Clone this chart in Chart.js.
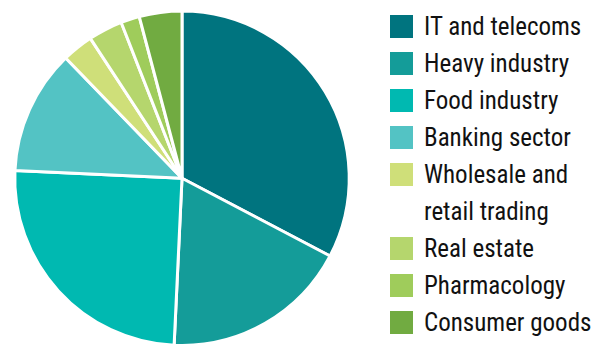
<!DOCTYPE html>
<html><head><meta charset="utf-8">
<script src="https://cdn.jsdelivr.net/npm/chart.js@4/dist/chart.umd.min.js"></script>
<style>
html,body{margin:0;padding:0;background:#fff;width:594px;height:344px;overflow:hidden;}
#wrap{position:absolute;left:0;top:0;width:364px;height:347px;}
#legend{position:absolute;left:390px;top:8px;font-family:"Liberation Sans Narrow","Roboto Condensed","Liberation Sans",sans-serif;font-size:25px;color:#111;}
.row{position:relative;height:37px;line-height:37px;padding-left:34px;white-space:nowrap;}
.sw{position:absolute;left:0;top:7px;width:23px;height:23px;}
</style></head>
<body>
<div id="wrap"><canvas id="c"></canvas></div>
<div id="legend"></div>
<script>
const categories = ["IT and telecoms","Heavy industry","Food industry","Banking sector",["Wholesale and","retail trading"],"Real estate","Pharmacology","Consumer goods"];
const shares = [32.6, 18.0, 24.9, 12.0, 3.0, 3.3, 1.8, 4.1];
const colors = ["#00747f","#149c99","#00b9b1","#53c3c4","#cfdf79","#b5d66d","#9fcc5b","#71ab41"];

new Chart(document.getElementById('c'), {
  type: 'pie',
  data: { labels: categories, datasets: [{ data: shares, backgroundColor: colors, borderColor: '#ffffff', borderWidth: 3 }] },
  options: {
    responsive: true, maintainAspectRatio: false, animation: false,
    layout: { padding: { top: 9.5, bottom: 0, left: 0, right: 0 } },
    plugins: { legend: { display: false }, tooltip: { enabled: false } }
  }
});

const lg = document.getElementById('legend');
categories.forEach((c, i) => {
  const lines = Array.isArray(c) ? c : [c];
  lines.forEach((t, j) => {
    const r = document.createElement('div');
    r.className = 'row';
    if (j === 0) {
      const s = document.createElement('span');
      s.className = 'sw'; s.style.background = colors[i];
      r.appendChild(s);
    }
    r.appendChild(document.createTextNode(t));
    lg.appendChild(r);
  });
});
</script>
</body></html>
